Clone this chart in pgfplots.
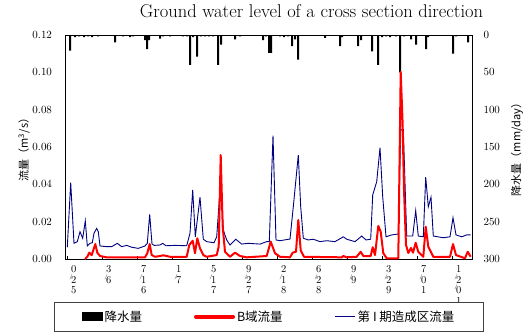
\documentclass[border=0pt]{standalone}
\usepackage{pgfplots}
\pgfplotsset{compat=1.18}
\usepackage{fontspec}
\newfontfamily\cjk{Noto Sans CJK SC}
\definecolor{navyb}{HTML}{000080}
\newcommand{\ds}{\makebox[0pt][c]{\raisebox{5pt}{\tiny/}}}
\begin{document}
\begin{tikzpicture}
\pgfplotsset{
  base/.style={width=406pt, height=224pt, scale only axis, xmin=66, xmax=472,
    tick label style={font=\fontsize{10.5}{10.5}\selectfont}},
}
% precipitation (right axis, reversed)
\begin{axis}[base, name=rain, ymin=0, ymax=300, y dir=reverse,
  axis y line*=right, axis x line=none,
  ytick={0,50,100,150,200,250,300}, ytick style={draw=none},
  yticklabel style={xshift=8pt},
  axis line style={black, line width=0.6pt},
  ylabel={\cjk 降水量（mm/day）},
  ylabel style={at={(axis description cs:1.111,0.5)}, anchor=center, font=\fontsize{11}{12}\selectfont}]
\addplot[ybar, bar width=2pt, fill=black, draw=none] coordinates {
(70,21) (75,3) (79,2) (84,3) (88,2) (92,3) (98,2) (115,10) (123,2) (130,3) (133,2)
(145,7) (147,19) (149,7) (160,5) (163,2) (170,2) (183,2) (187,2) (190,40) (193,3)
(197,29) (201,2) (205,2) (209,2) (213,2) (218,40) (221,13) (235,6) (240,2) (263,7)
(266,2) (269,24) (271,24) (280,2) (284,3) (288,2) (292,15) (295,6) (298,33) (325,4)
(340,15) (342,3) (358,15) (361,7) (372,22) (378,40) (382,3) (386,2) (390,3) (396,2)
(400,50) (404,2) (411,6) (416,13) (426,19) (428,3) (453,25) (456,2) (468,10)
};
\end{axis}
% flow (left axis)
\begin{axis}[base, name=main, ymin=0, ymax=0.12,
  ytick={0,0.02,0.04,0.06,0.08,0.10,0.12}, scaled y ticks=false,
  yticklabel style={/pgf/number format/fixed, /pgf/number format/fixed zerofill,
    /pgf/number format/precision=2, xshift=-10.5pt},
  ytick style={draw=none}, ytick pos=left,
  xtick={67,102,137,172,207,242,277,312,347,382,417,452},
  xticklabels={{0\\\ds2\\5},{3\\\ds6},{7\\\ds1\\6},{1\\\ds7},{5\\\ds1\\7},{9\\\ds2\\7},
    {2\\\ds1\\8},{6\\\ds2\\8},{9\\\ds9},{3\\\ds2\\9},{7\\\ds0\\1},{1\\\ds2\\\ds0\\1}},
  xticklabel style={xshift=6.7pt, align=center, yshift=-3pt},
  xtick pos=left, tick align=inside, major tick length=3pt,
  xtick style={black, line width=0.8pt},
  axis line style={black, line width=1pt},
  title={Ground water level of a cross section direction},
  title style={at={(axis description cs:0.5,1)}, anchor=base, yshift=12pt, xshift=42.5pt,
    font=\fontsize{18.5}{18.5}\selectfont},
  ylabel={\cjk 流量（m\textsuperscript{3}/s）},
  ylabel style={at={(axis description cs:-0.103,0.5)}, anchor=center, font=\fontsize{11}{12}\selectfont},
  legend style={at={(0.5,-0.257)}, anchor=center, draw=black!75, line width=1pt,
    font=\cjk\fontsize{12.5}{14}\selectfont, inner xsep=27pt, inner ysep=6.5pt,
    /tikz/every even column/.append style={column sep=50pt}},
  legend columns=3]
\addlegendimage{legend image code/.code={\fill[black] (0pt,-4pt) rectangle (20pt,4pt);}}
\addlegendimage{legend image code/.code={\draw[red, line width=4pt, line cap=round] (0pt,0pt) -- (37pt,0pt);}}
\addlegendimage{legend image code/.code={\draw[navyb, line width=1pt] (0pt,0pt) -- (20pt,0pt);}}
\legend{降水量, B域流量, 第 I 期造成区流量}
\addplot[navyb, line width=0.9pt, forget plot] coordinates {
(67.3,0.0063) (70.7,0.0409) (74,0.0084) (77.3,0.0093) (80,0.0146) (82.7,0.0111)
(85.3,0.0204) (87.3,0.0070) (90,0.0084) (92.3,0.0087) (94,0.0138) (96.7,0.0164)
(98.3,0.0146) (100,0.0070) (106.7,0.0066) (111.7,0.0066) (117.3,0.0084) (121.7,0.0066)
(126.7,0.0073) (131.7,0.0063) (138.3,0.0057) (145,0.0070) (147.3,0.0084) (149.7,0.0239)
(152,0.0080) (154.3,0.0073) (160,0.0075) (162.7,0.0084) (166,0.0071) (175,0.0073)
(186.7,0.0071) (190,0.0138) (192.7,0.0370) (195.3,0.0119) (200,0.0331) (203.3,0.0106)
(206.7,0.0093) (214,0.0087) (216.7,0.0119) (220.7,0.0423) (223.3,0.0155) (226.7,0.0102)
(230,0.0075) (235.7,0.0106) (241.7,0.0080) (248.3,0.0084) (260,0.0080) (266.7,0.0093)
(269.3,0.0093) (273,0.0661) (276,0.0102) (280,0.0098) (290,0.0107) (293.3,0.0280)
(298.3,0.0557) (300.7,0.0280) (303.3,0.0111) (308.3,0.0102) (313.3,0.0106) (320,0.0093)
(326.7,0.0098) (335,0.0093) (343.3,0.0119) (346.7,0.0106) (355,0.0093) (361.7,0.0123)
(366,0.0102) (370.7,0.0106) (372.7,0.0343) (376.7,0.0414) (380,0.0596) (382.7,0.0334)
(386,0.0119) (391.7,0.0129) (398.3,0.0134) (400.7,0.0691) (403.3,0.0695) (406.7,0.0123)
(412.7,0.0123) (415.7,0.0259) (418.3,0.0123) (423.3,0.0119) (425.7,0.0438) (428.3,0.0280)
(431,0.0331) (433.3,0.0123) (443.3,0.0114) (450,0.0119) (453,0.0221) (456,0.0129)
(461.7,0.0119) (466.7,0.0129) (470.7,0.0129)
};
\addplot[red, line width=2pt, line join=round, forget plot] coordinates {
(85,0) (87.3,0.0012) (89.3,0.0034) (91.7,0.0021) (95.3,0.0080) (97.3,0.0034) (100,0.0016)
(106.7,0.0009) (145,0.0009) (147.3,0.0031) (149.7,0.0080) (151.7,0.0021) (155,0.0012)
(160,0.0016) (163.3,0.0020) (170,0.0012) (186.7,0.0012) (189.3,0.0075) (192.7,0.0098)
(195,0.0031) (197.3,0.0111) (200,0.0057) (203.3,0.0021) (206.7,0.0012) (216.7,0.0021)
(218.7,0.0066) (220.7,0.0557) (222.7,0.0173) (225,0.0039) (230,0.0012) (235,0.0034)
(240,0.0016) (246.7,0.0009) (266.7,0.0016) (270.7,0.0093) (275,0.0031) (280,0.0012)
(290,0.0009) (292.7,0.0034) (296,0.0039) (298.3,0.0209) (300.7,0.0047) (304,0.0012)
(341.7,0.0009) (343.3,0.0016) (346.7,0.0009) (356.7,0.0012) (360.7,0.0039) (363.3,0.0016)
(370.7,0.0016) (372.7,0.0063) (375,0.0021) (378.3,0.0177) (380.7,0.0146) (383.3,0.0031)
(386.7,0.0004) (398.3,0.0004) (400.7,0.1003) (402.5,0.0745) (404,0.0370) (406,0.0075)
(408.3,0.0032) (411,0.0059) (413,0.0034) (415.7,0.0087) (418.3,0.0038) (423.3,0.0012)
(425.7,0.0173) (428.3,0.0066) (433.3,0.0012) (450,0.0012) (453,0.0080) (456,0.0021)
(465,0.0004) (467.7,0.0039) (470.7,0.0012)
};
\end{axis}
\path ([xshift=-66pt,yshift=-76pt]main.south west) rectangle ([xshift=57pt,yshift=35pt]main.north east);
\end{tikzpicture}
\end{document}
